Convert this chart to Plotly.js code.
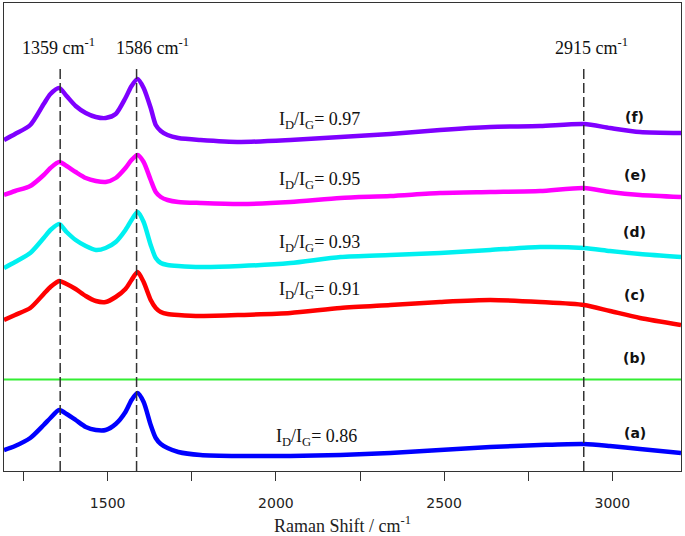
<!DOCTYPE html>
<html>
<head>
<meta charset="utf-8">
<script src="https://cdn.plot.ly/plotly-3.0.1.min.js"></script>
<style>html,body{margin:0;padding:0;background:#fff;}#chart{width:685px;height:536px;}</style>
</head>
<body>
<div id="chart"></div>
<script>
// Raman shift (cm^-1) sample positions
const ramanShift = [1192, 1225, 1270, 1310, 1330, 1356, 1378, 1405, 1435, 1465, 1494, 1524, 1553, 1571, 1589, 1607, 1628, 1643, 1658, 1678, 1710, 1776, 1895, 2043, 2192, 2340, 2488, 2637, 2785, 2916, 2993, 3082, 3204];
// Intensities (arbitrary units, vertically offset spectra)
const specF = [331, 337, 346, 367, 377, 383, 375, 365, 358, 354, 353, 357, 373, 385, 392, 383, 363, 346, 340, 336, 333, 331, 329, 331, 334, 337, 341, 344, 345, 347, 343, 339, 338];
const specE = [276, 280, 285, 296, 303, 309, 305, 299, 293, 290, 289, 293, 303, 311, 316, 309, 291, 279, 274, 271, 269, 268, 267, 269, 273, 275, 278, 279, 280, 283, 279, 276, 274];
const specD = [203, 209, 218, 233, 241, 247, 239, 231, 225, 221, 223, 229, 241, 251, 259, 249, 226, 213, 208, 206, 205, 204, 205, 208, 214, 216, 218, 221, 224, 223, 220, 217, 214];
const specC = [151, 156, 163, 177, 184, 190, 187, 182, 175, 170, 169, 174, 182, 191, 199, 189, 171, 163, 159, 157, 156, 155, 156, 158, 163, 166, 169, 171, 169, 166, 160, 153, 146];
const specB = [91.5, 91.5, 91.5, 91.5, 91.5, 91.5, 91.5, 91.5, 91.5, 91.5, 91.5, 91.5, 91.5, 91.5, 91.5, 91.5, 91.5, 91.5, 91.5, 91.5, 91.5, 91.5, 91.5, 91.5, 91.5, 91.5, 91.5, 91.5, 91.5, 91.5, 91.5, 91.5, 91.5];
const specA = [21, 25, 33, 46, 53, 61, 57, 51, 44, 41, 41, 47, 59, 71, 78, 69, 46, 33, 27, 23, 19, 16, 15, 15, 16, 18, 21, 24, 26, 27, 25, 22, 18];

const seriesNames = ['(f)', '(e)', '(d)', '(c)', '(b)', '(a)'];
const seriesData = [specF, specE, specD, specC, specB, specA];
const seriesColors = ['#7f00ff', '#ff00ff', '#00f0f0', '#ff0000', '#33ee33', '#0000ff'];
const seriesWidths = [4.5, 4.5, 4.5, 4.5, 2, 4.5];
const seriesLabelY = [354, 296, 239, 176, 113, 38];

const ratioLabels = ['I<sub>D</sub>/I<sub>G</sub>= 0.97', 'I<sub>D</sub>/I<sub>G</sub>= 0.95', 'I<sub>D</sub>/I<sub>G</sub>= 0.93', 'I<sub>D</sub>/I<sub>G</sub>= 0.91', 'I<sub>D</sub>/I<sub>G</sub>= 0.86'];
const ratioX = [2129, 2129, 2129, 2129, 2120];
const ratioY = [351, 291, 228, 181, 34];

const peakPositions = [1359, 1586, 2915];
const peakLabels = ['1359 cm<sup>-1</sup>', '1586 cm<sup>-1</sup>', '2915 cm<sup>-1</sup>'];
const peakLabelX = [1355, 1634, 2937];
const peakLineTop = 403;
const peakLabelY = 425;

const tickVals = [1250, 1500, 1750, 2000, 2250, 2500, 2750, 3000];
const tickText = ['', '1500', '', '2000', '', '2500', '', '3000'];

const traces = seriesData.map((ys, i) => ({
  type: 'scatter', mode: 'lines', x: ramanShift, y: ys, name: seriesNames[i],
  line: {color: seriesColors[i], width: seriesWidths[i], shape: 'spline', smoothing: 0.7},
  hoverinfo: 'skip', showlegend: false
}));

const annotations = [];
seriesNames.forEach((n, i) => annotations.push({
  x: 3067, y: seriesLabelY[i], xref: 'x', yref: 'y', text: '<b>' + n + '</b>', showarrow: false,
  font: {family: 'DejaVu Sans', size: 14, color: '#111'}
}));
ratioLabels.forEach((t, i) => annotations.push({
  x: ratioX[i], y: ratioY[i], xref: 'x', yref: 'y', text: t, showarrow: false,
  font: {family: 'Liberation Serif', size: 18, color: '#111'}
}));
peakLabels.forEach((t, i) => annotations.push({
  x: peakLabelX[i], y: peakLabelY, xref: 'x', yref: 'y', text: t, showarrow: false,
  font: {family: 'Liberation Serif', size: 18, color: '#111'}
}));

const shapes = peakPositions.map(p => ({
  type: 'line', xref: 'x', yref: 'y', x0: p, x1: p, y0: 0, y1: peakLineTop, layer: 'above',
  line: {color: '#333', width: 1.5, dash: '10px,4px'}
}));

const layout = {
  width: 685, height: 536,
  margin: {l: 4, r: 4, t: 3, b: 65},
  paper_bgcolor: '#fff', plot_bgcolor: '#fff',
  xaxis: {
    range: [1192, 3204], showgrid: false, zeroline: false,
    showline: true, mirror: true, linecolor: '#333', linewidth: 1,
    ticks: 'outside', ticklen: 9, tickcolor: '#333', tickwidth: 1,
    tickmode: 'array', tickvals: tickVals, ticktext: tickText,
    ticklabelstandoff: 10,
    tickfont: {family: 'DejaVu Sans', size: 14, color: '#222'},
    title: {text: 'Raman Shift / cm<sup>-1</sup>', font: {family: 'Liberation Serif', size: 18, color: '#222'}, standoff: 10}
  },
  yaxis: {
    range: [0, 468], showgrid: false, zeroline: false, showticklabels: false, ticks: '',
    showline: true, mirror: true, linecolor: '#333', linewidth: 1
  },
  annotations: annotations,
  shapes: shapes
};

Plotly.newPlot('chart', traces, layout, {displayModeBar: false, staticPlot: true});
</script>
</body>
</html>
